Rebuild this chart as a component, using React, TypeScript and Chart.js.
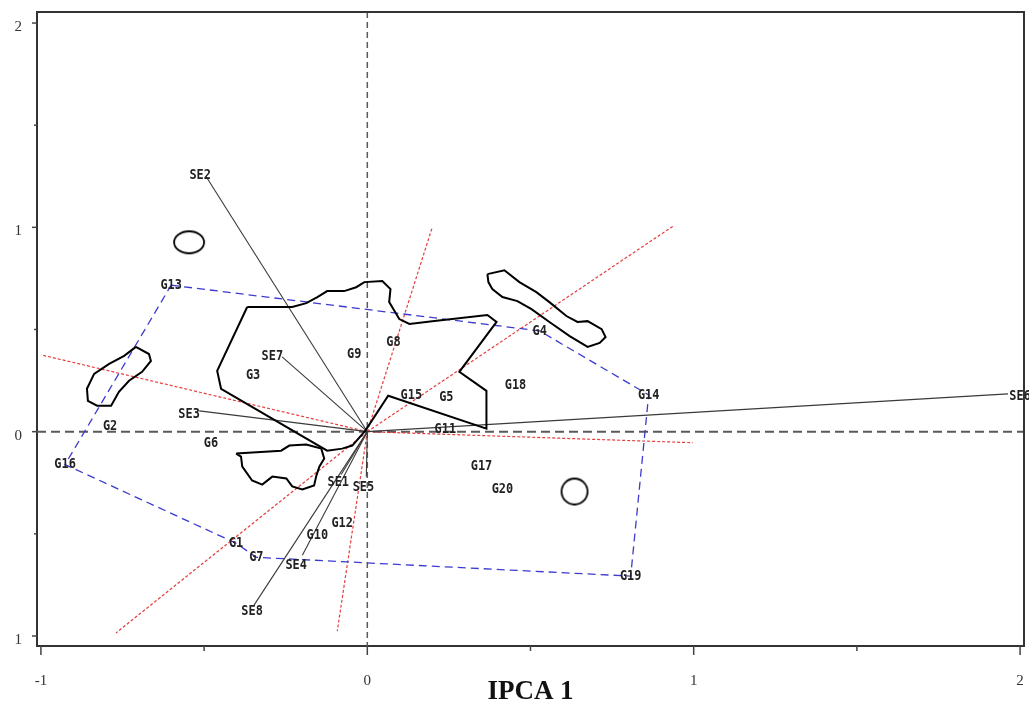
import React, { useEffect, useRef } from 'react';
import { Chart, registerables } from 'chart.js';

Chart.register(...registerables);

// ---- axis ranges & ticks ----
const X_MIN = -1.012;
const X_MAX = 2.012;
const Y_MIN = -1.049;
const Y_MAX = 2.054;
const X_TICKS = [-1, -0.5, 0, 0.5, 1, 1.5, 2];
const Y_TICKS = [-1, -0.5, 0, 0.5, 1, 1.5, 2];
const X_TITLE = 'IPCA 1';

// ---- genotypes ----
const genotypes = ['G1', 'G2', 'G3', 'G4', 'G5', 'G6', 'G7', 'G8', 'G9', 'G10',
  'G11', 'G12', 'G13', 'G14', 'G15', 'G16', 'G17', 'G18', 'G19', 'G20'];
const genoX = [-0.402, -0.788, -0.35, 0.528, 0.242, -0.479, -0.34, 0.08, -0.04, -0.153,
  0.239, -0.077, -0.601, 0.862, 0.135, -0.926, 0.35, 0.454, 0.807, 0.414];
const genoY = [-0.546, 0.024, 0.278, 0.493, 0.166, -0.059, -0.615, 0.439, 0.376, -0.507,
  0.01, -0.449, 0.717, 0.18, 0.18, -0.161, -0.171, 0.229, -0.707, -0.283];
const hullOrder = ['G13', 'G4', 'G14', 'G19', 'G7', 'G1', 'G16'];

// ---- environments (vectors) ----
const environments = ['SE1', 'SE2', 'SE3', 'SE4', 'SE5', 'SE6', 'SE7', 'SE8'];
const envX = [-0.08, -0.494, -0.515, -0.199, -0.003, 1.963, -0.261, -0.347];
const envY = [-0.21, 1.249, 0.102, -0.605, -0.22, 0.185, 0.366, -0.849];
const envLabelX = [-0.089, -0.512, -0.546, -0.218, -0.012, 2.0, -0.291, -0.353];
const envLabelY = [-0.249, 1.254, 0.083, -0.654, -0.273, 0.171, 0.371, -0.878];

// ---- red sector rays ----
const rayX = [-1.0, 0.997, 0.936, -0.77, 0.199, -0.092];
const rayY = [0.376, -0.054, 1.005, -0.985, 1.0, -0.976];

// ---- outlined regions ----
const shapeAX = [-0.368, -0.23, -0.187, -0.153, -0.123, -0.071, -0.034, -0.009, 0.046, 0.071,
  0.067, 0.098, 0.129, 0.199, 0.368, 0.396, 0.282, 0.365, 0.365, 0.064,
  -0.006, -0.046, -0.077, -0.123, -0.448, -0.46];
const shapeAY = [0.61, 0.61, 0.629, 0.659, 0.688, 0.688, 0.707, 0.732, 0.737, 0.698,
  0.634, 0.551, 0.527, 0.541, 0.571, 0.537, 0.293, 0.2, 0.015, 0.176,
  0.005, -0.068, -0.083, -0.093, 0.21, 0.298];
const shapeBX = [-0.709, -0.669, -0.663, -0.69, -0.73, -0.761, -0.785, -0.828, -0.856, -0.859, -0.837, -0.791, -0.745];
const shapeBY = [0.415, 0.38, 0.346, 0.293, 0.249, 0.195, 0.127, 0.127, 0.151, 0.21, 0.283, 0.332, 0.371];
const shapeCX = [-0.402, -0.264, -0.239, -0.187, -0.141, -0.132, -0.147, -0.156, -0.163, -0.199,
  -0.23, -0.248, -0.291, -0.322, -0.353, -0.383, -0.387];
const shapeCY = [-0.107, -0.093, -0.068, -0.063, -0.083, -0.132, -0.171, -0.215, -0.263, -0.283,
  -0.268, -0.229, -0.22, -0.259, -0.239, -0.171, -0.122];
const shapeDX = [0.368, 0.42, 0.466, 0.518, 0.558, 0.61, 0.644, 0.675, 0.718, 0.73,
  0.712, 0.675, 0.62, 0.558, 0.503, 0.46, 0.414, 0.383, 0.371];
const shapeDY = [0.771, 0.79, 0.732, 0.683, 0.634, 0.566, 0.537, 0.541, 0.502, 0.463,
  0.434, 0.415, 0.468, 0.537, 0.6, 0.639, 0.659, 0.698, 0.732];

// ---- rings ----
const ringX = [-0.546, 0.635];
const ringY = [0.927, -0.293];

const LABEL_FONT = 'bold 14px "DejaVu Sans Mono"';

function closed(xs: number[], ys: number[]) {
  const pts = xs.map((x, i) => ({ x, y: ys[i] }));
  pts.push({ ...pts[0] });
  return pts;
}

function ellipseStyle(rx: number, ry: number, lw: number) {
  const c = document.createElement('canvas');
  c.width = Math.ceil(2 * rx + 2 * lw);
  c.height = Math.ceil(2 * ry + 2 * lw);
  const g = c.getContext('2d')!;
  g.lineWidth = lw;
  g.strokeStyle = '#000';
  g.beginPath();
  g.ellipse(c.width / 2, c.height / 2, rx, ry, 0, 0, Math.PI * 2);
  g.stroke();
  return c;
}

const refLinesPlugin = {
  id: 'refLines',
  beforeDatasetsDraw(chart: any) {
    const { ctx, chartArea: a, scales } = chart;
    const x0 = scales.x.getPixelForValue(0);
    const y0 = scales.y.getPixelForValue(0);
    ctx.save();
    ctx.strokeStyle = '#5a5a5a';
    ctx.lineWidth = 2;
    ctx.setLineDash([9, 5]);
    ctx.beginPath();
    ctx.moveTo(a.left, y0);
    ctx.lineTo(a.right, y0);
    ctx.stroke();
    ctx.lineWidth = 1.5;
    ctx.setLineDash([6, 4]);
    ctx.beginPath();
    ctx.moveTo(x0, a.top);
    ctx.lineTo(x0, a.bottom);
    ctx.stroke();
    ctx.restore();
  },
};

const labelPlugin = {
  id: 'pointLabels',
  afterDatasetsDraw(chart: any) {
    const { ctx, scales } = chart;
    ctx.save();
    ctx.fillStyle = '#222';
    ctx.textAlign = 'center';
    ctx.textBaseline = 'middle';
    ctx.font = LABEL_FONT;
    const draw = (t: string, vx: number, vy: number) => {
      const px = scales.x.getPixelForValue(vx);
      const py = scales.y.getPixelForValue(vy);
      ctx.save();
      ctx.translate(px, py);
      ctx.scale(0.85, 1);
      ctx.fillText(t, 0, 0);
      ctx.restore();
    };
    genotypes.forEach((g, i) => draw(g, genoX[i], genoY[i]));
    environments.forEach((e, i) => draw(e, envLabelX[i], envLabelY[i]));
    ctx.restore();
  },
};

const framePlugin = {
  id: 'frame',
  afterDraw(chart: any) {
    const { ctx, chartArea: a, scales } = chart;
    ctx.save();
    ctx.strokeStyle = '#333';
    ctx.lineWidth = 2;
    ctx.beginPath();
    ctx.moveTo(a.left, a.top);
    ctx.lineTo(a.right, a.top);
    ctx.lineTo(a.right, a.bottom);
    ctx.stroke();
    ctx.lineWidth = 1.5;
    ctx.strokeStyle = '#444';
    X_TICKS.forEach((v) => {
      const px = scales.x.getPixelForValue(v);
      const len = Number.isInteger(v) ? 9 : 5;
      ctx.beginPath();
      ctx.moveTo(px, a.bottom);
      ctx.lineTo(px, a.bottom + len);
      ctx.stroke();
    });
    Y_TICKS.forEach((v) => {
      const py = scales.y.getPixelForValue(v);
      const len = Number.isInteger(v) ? 5 : 3;
      ctx.beginPath();
      ctx.moveTo(a.left, py);
      ctx.lineTo(a.left - len, py);
      ctx.stroke();
    });
    ctx.restore();
  },
};

export default function App() {
  const ref = useRef<HTMLCanvasElement>(null);

  useEffect(() => {
    if (!ref.current) return;
    const hullPts = hullOrder.map((g) => {
      const i = genotypes.indexOf(g);
      return { x: genoX[i], y: genoY[i] };
    });
    hullPts.push({ ...hullPts[0] });

    const datasets: any[] = [];
    rayX.forEach((rx, i) => {
      datasets.push({
        data: [{ x: 0, y: 0 }, { x: rx, y: rayY[i] }],
        showLine: true, pointRadius: 0, borderColor: 'rgba(228,40,40,0.9)',
        borderWidth: 1.2, borderDash: [3, 2], order: 5,
      });
    });
    datasets.push({
      data: hullPts, showLine: true, pointRadius: 0, borderColor: '#3b3bd0',
      borderWidth: 1.3, borderDash: [8, 5], order: 4,
    });
    envX.forEach((ex, i) => {
      datasets.push({
        data: [{ x: 0, y: 0 }, { x: ex, y: envY[i] }],
        showLine: true, pointRadius: 0, borderColor: '#3a3a3a', borderWidth: 1.1, order: 3,
      });
    });
    [[shapeAX, shapeAY], [shapeBX, shapeBY], [shapeCX, shapeCY], [shapeDX, shapeDY]].forEach(([xs, ys]) => {
      datasets.push({
        data: closed(xs, ys), showLine: true, pointRadius: 0, borderColor: '#000',
        borderWidth: 2, order: 2,
      });
    });
    datasets.push({
      data: ringX.map((x, i) => ({ x, y: ringY[i] })),
      showLine: false,
      pointStyle: [ellipseStyle(15, 11, 1.8), ellipseStyle(13, 13, 1.8)],
      pointRadius: 13, order: 1,
    });

    const chart = new Chart(ref.current, {
      type: 'scatter',
      data: { datasets },
      plugins: [refLinesPlugin, labelPlugin, framePlugin],
      options: {
        animation: false,
        responsive: false,
        events: [],
        layout: { autoPadding: false, padding: { top: 12, right: 5, left: 0, bottom: 0 } },
        plugins: { legend: { display: false }, tooltip: { enabled: false } },
        elements: { line: { tension: 0 } },
        scales: {
          x: {
            type: 'linear',
            min: X_MIN,
            max: X_MAX,
            afterBuildTicks: (s: any) => { s.ticks = X_TICKS.map((v) => ({ value: v })); },
            afterFit: (s: any) => {
              s.height = 57;
              s.paddingLeft = 0; s.paddingRight = 0; s.paddingTop = 0; s.paddingBottom = 0;
            },
            ticks: {
              autoSkip: false, maxRotation: 0, padding: 26, color: '#333',
              font: { family: '"Liberation Serif"', size: 15 },
              callback: (v: any) => (Number.isInteger(v) ? String(v) : ''),
            },
            grid: { display: true, drawOnChartArea: false, drawTicks: false },
            border: { display: true, color: '#333', width: 2 },
            title: {
              display: true, text: X_TITLE, color: '#111',
              font: { family: '"Liberation Serif"', size: 27, weight: 'bold', lineHeight: 1 },
              padding: { top: 0, bottom: -3 },
            },
          },
          y: {
            type: 'linear',
            min: Y_MIN,
            max: Y_MAX,
            afterBuildTicks: (s: any) => { s.ticks = Y_TICKS.map((v) => ({ value: v })); },
            afterFit: (s: any) => {
              s.width = 37;
              s.paddingLeft = 0; s.paddingRight = 0; s.paddingTop = 0; s.paddingBottom = 0;
            },
            ticks: {
              autoSkip: false, padding: 15, color: '#333', labelOffset: 4,
              font: { family: '"Liberation Serif"', size: 15 },
              callback: (v: any) => (Number.isInteger(v) ? String(Math.abs(v)) : ''),
            },
            grid: { display: true, drawOnChartArea: false, drawTicks: false },
            border: { display: true, color: '#333', width: 2 },
          },
        },
      } as any,
    });
    return () => chart.destroy();
  }, []);

  return (
    <div style={{ position: 'fixed', left: 0, top: 0, width: 1029, height: 703, background: '#fff' }}>
      <canvas ref={ref} width={1029} height={703} style={{ width: 1029, height: 703 }} />
    </div>
  );
}
